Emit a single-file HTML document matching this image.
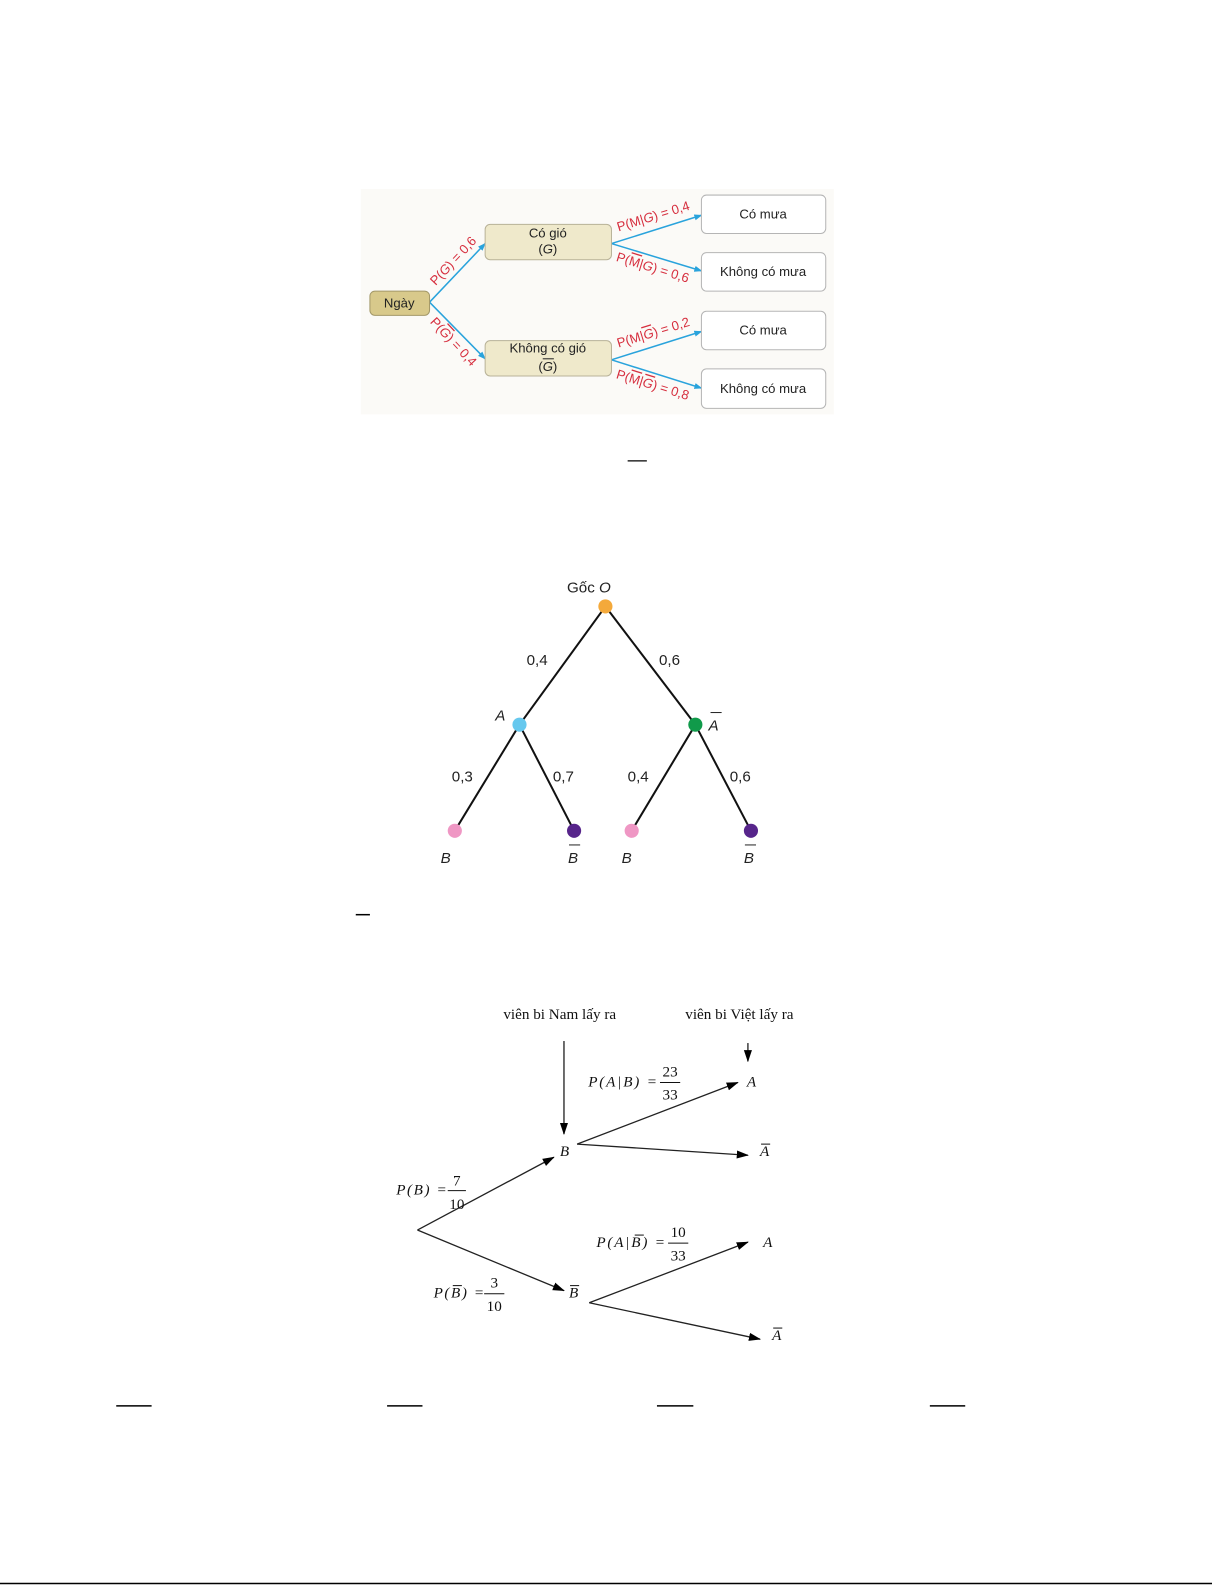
<!DOCTYPE html>
<html><head><meta charset="utf-8"><style>
html,body{margin:0;padding:0;background:#fff;}
svg{display:block}
.s{font-family:"Liberation Sans",sans-serif;}
.r{font-family:"Liberation Sans",sans-serif;}
.t{font-family:"Liberation Serif",serif;}
</style></head><body>
<svg width="1225" height="1585" viewBox="0 0 1225 1585" xmlns="http://www.w3.org/2000/svg">
<defs>
<marker id="bl" markerWidth="8" markerHeight="8" refX="7" refY="4" orient="auto" markerUnits="userSpaceOnUse"><path d="M0,1 L8,4 L0,7 Z" fill="#29a3dc"/></marker>
<marker id="bk" markerWidth="12" markerHeight="10" refX="11" refY="5" orient="auto" markerUnits="userSpaceOnUse"><path d="M0,1 L12,5 L0,9 Z" fill="#000"/></marker>
</defs>
<g transform="scale(1.0107)">
<rect x="357" y="187" width="468" height="223" fill="#fbfaf7"/>
<g stroke="#29a3dc" stroke-width="1.5" fill="none">
<line x1="425" y1="299" x2="480" y2="241" marker-end="url(#bl)"/>
<line x1="425" y1="299" x2="480" y2="355" marker-end="url(#bl)"/>
<line x1="605" y1="241" x2="694" y2="213" marker-end="url(#bl)"/>
<line x1="605" y1="241" x2="694" y2="268" marker-end="url(#bl)"/>
<line x1="605" y1="356" x2="694" y2="328" marker-end="url(#bl)"/>
<line x1="605" y1="356" x2="694" y2="384" marker-end="url(#bl)"/>
</g>
<rect x="366" y="288" width="59" height="24" rx="5" fill="#d8c98b" stroke="#a39868" stroke-width="1"/>
<rect x="480" y="222" width="125" height="35" rx="5" fill="#efe9cb" stroke="#b8b298" stroke-width="1"/>
<rect x="480" y="337" width="125" height="35" rx="5" fill="#efe9cb" stroke="#b8b298" stroke-width="1"/>
<g fill="#fff" stroke="#b5b5b5" stroke-width="1">
<rect x="694" y="193" width="123" height="38" rx="5"/>
<rect x="694" y="250" width="123" height="38" rx="5"/>
<rect x="694" y="308" width="123" height="38" rx="5"/>
<rect x="694" y="365" width="123" height="39" rx="5"/>
</g>
<g class="s" font-size="13" fill="#222" text-anchor="middle">
<text x="395" y="304">Ngày</text>
<text x="542" y="235">Có gió</text>
<text x="542" y="251">(<tspan font-style="italic">G</tspan>)</text>
<text x="542" y="349">Không có gió</text>
<text x="542" y="367">(<tspan font-style="italic">G</tspan>)</text>
<line x1="537" y1="355" x2="548" y2="355" stroke="#222" stroke-width="1"/>
<text x="755" y="216">Có mưa</text>
<text x="755" y="273">Không có mưa</text>
<text x="755" y="331">Có mưa</text>
<text x="755" y="389">Không có mưa</text>
</g>
<g class="s" font-size="13" fill="#d62e3e">
<text transform="translate(431,283) rotate(-47)">P(<tspan font-style="italic">G</tspan>) = 0,6</text>
<text transform="translate(425,319) rotate(47)">P(<tspan font-style="italic" text-decoration="overline">G</tspan>) = 0,4</text>
<text transform="translate(612,229) rotate(-17)">P(M|<tspan font-style="italic">G</tspan>) = 0,4</text>
<text transform="translate(609,258) rotate(17)">P(<tspan text-decoration="overline">M</tspan>|<tspan font-style="italic">G</tspan>) = 0,6</text>
<text transform="translate(612,344) rotate(-17)">P(M|<tspan font-style="italic" text-decoration="overline">G</tspan>) = 0,2</text>
<text transform="translate(609,374) rotate(17)">P(<tspan text-decoration="overline">M</tspan>|<tspan font-style="italic" text-decoration="overline">G</tspan>) = 0,8</text>
</g>
<line x1="621" y1="456" x2="640" y2="456" stroke="#000" stroke-width="1.2"/>
<g stroke="#111" stroke-width="2">
<line x1="599" y1="600" x2="514" y2="717"/>
<line x1="599" y1="600" x2="688" y2="717"/>
<line x1="514" y1="717" x2="450" y2="822"/>
<line x1="514" y1="717" x2="568" y2="822"/>
<line x1="688" y1="717" x2="625" y2="822"/>
<line x1="688" y1="717" x2="743" y2="822"/>
</g>
<circle cx="599" cy="600" r="7" fill="#f4a93b"/>
<circle cx="514" cy="717" r="7" fill="#66c8ee"/>
<circle cx="688" cy="717" r="7" fill="#109a4a"/>
<circle cx="450" cy="822" r="7" fill="#ef97c4"/>
<circle cx="568" cy="822" r="7" fill="#57258b"/>
<circle cx="625" cy="822" r="7" fill="#ef97c4"/>
<circle cx="743" cy="822" r="7" fill="#57258b"/>
<g class="r" font-size="15" fill="#222">
<text x="561" y="586">Gốc <tspan font-style="italic">O</tspan></text>
<text x="521" y="658">0,4</text>
<text x="652" y="658">0,6</text>
<text x="490" y="713" font-style="italic">A</text>
<text x="701" y="723" font-style="italic">A</text>
<line x1="703" y1="705" x2="714" y2="705" stroke="#222" stroke-width="1"/>
<text x="447" y="773">0,3</text>
<text x="547" y="773">0,7</text>
<text x="621" y="773">0,4</text>
<text x="722" y="773">0,6</text>
<text x="436" y="854" font-style="italic">B</text>
<text x="562" y="854" font-style="italic">B</text>
<line x1="563" y1="836" x2="574" y2="836" stroke="#222" stroke-width="1"/>
<text x="615" y="854" font-style="italic">B</text>
<text x="736" y="854" font-style="italic">B</text>
<line x1="737" y1="836" x2="748" y2="836" stroke="#222" stroke-width="1"/>
</g>
<line x1="352" y1="905" x2="366" y2="905" stroke="#000" stroke-width="1.5"/>
<g stroke="#222" stroke-width="1.3">
<line x1="558" y1="1030" x2="558" y2="1122" marker-end="url(#bk)"/>
<line x1="740" y1="1032" x2="740" y2="1050" marker-end="url(#bk)"/>
<line x1="413" y1="1217" x2="548" y2="1145" marker-end="url(#bk)"/>
<line x1="413" y1="1217" x2="558" y2="1277" marker-end="url(#bk)"/>
<line x1="571" y1="1132" x2="730" y2="1071" marker-end="url(#bk)"/>
<line x1="571" y1="1132" x2="740" y2="1143" marker-end="url(#bk)"/>
<line x1="583" y1="1289" x2="740" y2="1229" marker-end="url(#bk)"/>
<line x1="583" y1="1289" x2="752" y2="1325" marker-end="url(#bk)"/>
</g>
<g class="t" font-size="15" fill="#111">
<text x="498" y="1008">viên bi Nam lấy ra</text>
<text x="678" y="1008">viên bi Việt lấy ra</text>
</g>
<g class="t" font-size="15" fill="#111" font-style="italic">
<text x="554" y="1144">B</text>
<text x="739" y="1075">A</text>
<text x="752" y="1144">A</text><line x1="753" y1="1132" x2="762" y2="1132" stroke="#111"/>
<text x="563" y="1284">B</text><line x1="564" y1="1272" x2="573" y2="1272" stroke="#111"/>
<text x="755" y="1234">A</text>
<text x="764" y="1326">A</text><line x1="765" y1="1314" x2="774" y2="1314" stroke="#111"/>
<text x="392" y="1182" textLength="50">P(B) =</text>
<text x="582" y="1075" textLength="68">P(A|B) =</text>
<text x="590" y="1234" textLength="68">P(A|B) =</text><line x1="628" y1="1222" x2="637" y2="1222" stroke="#111"/>
<text x="429" y="1284" textLength="50">P(B) =</text><line x1="448" y1="1272" x2="457" y2="1272" stroke="#111"/>
</g>
<g class="t" font-size="15" fill="#111" text-anchor="middle">
<text x="452" y="1173">7</text><line x1="443" y1="1178" x2="461" y2="1178" stroke="#111"/><text x="452" y="1196">10</text>
<text x="663" y="1065">23</text><line x1="653" y1="1071" x2="673" y2="1071" stroke="#111"/><text x="663" y="1088">33</text>
<text x="671" y="1224">10</text><line x1="661" y1="1230" x2="681" y2="1230" stroke="#111"/><text x="671" y="1247">33</text>
<text x="489" y="1274">3</text><line x1="479" y1="1280" x2="499" y2="1280" stroke="#111"/><text x="489" y="1297">10</text>
</g>
<g stroke="#000" stroke-width="1.5">
<line x1="115" y1="1391" x2="150" y2="1391"/>
<line x1="383" y1="1391" x2="418" y2="1391"/>
<line x1="650" y1="1391" x2="686" y2="1391"/>
<line x1="920" y1="1391" x2="955" y2="1391"/>
</g>
</g>
<line x1="0" y1="1583.5" x2="1212" y2="1583.5" stroke="#000" stroke-width="1.5"/>
</svg>
</body></html>
